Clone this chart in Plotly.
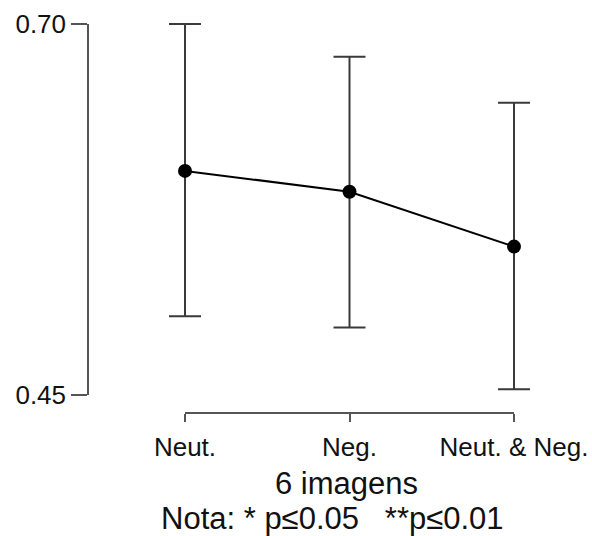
import plotly.graph_objects as go

categories = ["Neut.", "Neg.", "Neut. & Neg."]
means = [0.601, 0.587, 0.550]
upper = [0.700, 0.678, 0.647]
lower = [0.503, 0.4955, 0.4538]
y_ticks = [0.45, 0.70]
y_tick_labels = ["0.45", "0.70"]
x_title = "6 imagens"
note = "Nota: * p≤0.05   **p≤0.01"

W, H = 592, 536
xpos = [1, 2, 3]
err_plus = [u - m for u, m in zip(upper, means)]
err_minus = [m - l for m, l in zip(means, lower)]

# pixel geometry of the axes
x1_px, x3_px = 185, 514
y_top_px, y_bot_px = 24, 395
xs = (x3_px - x1_px) / (xpos[-1] - xpos[0])          # px per x unit
ys = (y_bot_px - y_top_px) / (y_ticks[1] - y_ticks[0])  # px per y unit

fig = go.Figure()
# data on full-figure axes (no clipping of caps)
fig.add_trace(go.Scatter(
    x=xpos, y=means, mode="lines+markers",
    line=dict(color="black", width=2),
    marker=dict(color="black", size=14),
    error_y=dict(type="data", symmetric=False, array=err_plus, arrayminus=err_minus,
                 color="#3a3a3a", thickness=2, width=16),
    cliponaxis=False, showlegend=False, hoverinfo="skip",
))
# invisible trace to activate the displayed axes
fig.add_trace(go.Scatter(x=[xpos[0], xpos[-1]], y=y_ticks, mode="markers",
                         marker=dict(opacity=0), xaxis="x2", yaxis="y2",
                         showlegend=False, hoverinfo="skip"))

font = "Liberation Sans, Arial, sans-serif"
axcol = "#555"
fig.update_layout(
    width=W, height=H,
    margin=dict(l=0, r=0, t=0, b=0, pad=0),
    paper_bgcolor="white", plot_bgcolor="rgba(0,0,0,0)",
    font=dict(family=font, color="black"),
    hovermode=False,
    xaxis=dict(domain=[0, 1], range=[xpos[0] - x1_px / xs, xpos[-1] + (W - x3_px) / xs],
               visible=False, automargin=False, fixedrange=True),
    yaxis=dict(domain=[0, 1], range=[y_ticks[1] - (H - y_top_px) / ys, y_ticks[1] + y_top_px / ys],
               visible=False, automargin=False, fixedrange=True),
    xaxis2=dict(
        domain=[x1_px / W, x3_px / W], range=[xpos[0], xpos[-1]],
        anchor="free", position=(H - 413) / H,
        tickmode="array", tickvals=xpos, ticktext=categories,
        ticks="outside", ticklen=8, tickwidth=1.5, tickcolor=axcol,
        showline=True, linecolor=axcol, linewidth=1.5,
        showgrid=False, zeroline=False, automargin=False, fixedrange=True,
        ticklabelstandoff=3,
        tickfont=dict(size=26, family=font, color="#111"),
    ),
    yaxis2=dict(
        domain=[(H - y_bot_px) / H, (H - y_top_px) / H], range=y_ticks,
        anchor="free", position=88 / W,
        tickmode="array", tickvals=y_ticks, ticktext=y_tick_labels,
        ticks="outside", ticklen=16, tickwidth=1.5, tickcolor=axcol,
        showline=True, linecolor=axcol, linewidth=1.5,
        showgrid=False, zeroline=False, automargin=False, fixedrange=True,
        tickfont=dict(size=26, family=font, color="#111"),
    ),
    annotations=[
        dict(text=x_title, x=346.5 / W, y=(H - 483) / H, xref="paper", yref="paper",
             showarrow=False, font=dict(size=31, family=font, color="#111"),
             xanchor="center", yanchor="middle"),
        dict(text=note, x=332.5 / W, y=(H - 518) / H, xref="paper", yref="paper",
             showarrow=False, font=dict(size=31, family=font, color="#111"),
             xanchor="center", yanchor="middle"),
    ],
)

fig.write_html("out.html", config={"displayModeBar": False},
               post_script="document.body.style.margin='0';")
